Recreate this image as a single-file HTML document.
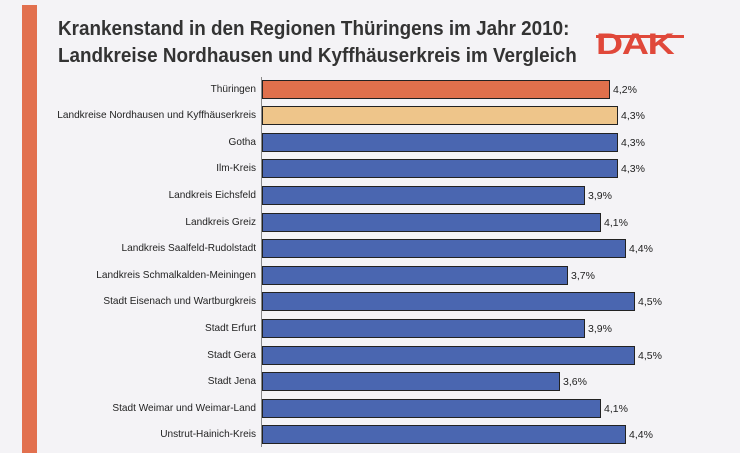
<!DOCTYPE html>
<html><head><meta charset="utf-8"><style>
body{margin:0;width:740px;height:453px;background:#f4f3f6;position:relative;overflow:hidden;font-family:"Liberation Sans",sans-serif}
.stripe{position:absolute;left:22px;top:5px;width:15px;height:448px;background:#e2704e}
.t{position:absolute;left:58px;font-size:20.5px;font-weight:bold;color:#333;transform:scaleX(0.92);transform-origin:left;white-space:nowrap}
.dak{position:absolute;left:596px;top:28px;font-size:30px;font-weight:bold;color:#e0483a;letter-spacing:-1px;transform:scaleX(1.25);transform-origin:left}
.axis{position:absolute;left:261px;top:77px;width:1px;height:370px;background:#888}
.lab{position:absolute;left:6px;width:250px;text-align:right;font-size:10.5px;color:#222;line-height:19px;white-space:nowrap;transform:scaleX(0.96);transform-origin:right}
.bar{position:absolute;left:262px;height:17px;border:1px solid #222;box-sizing:content-box}
.val{position:absolute;font-size:10.5px;color:#222;line-height:19px}
</style></head><body>
<div class="stripe"></div>
<div class="t" style="top:17px">Krankenstand in den Regionen Thüringens im Jahr 2010:</div>
<div class="t" style="top:44px">Landkreise Nordhausen und Kyffhäuserkreis im Vergleich</div>
<div class="dak">DAK</div>
<div style="position:absolute;left:596px;top:35px;width:88px;height:3px;background:#e0483a"></div>
<div class="axis"></div>
<div id="c"></div>
<script>
var d=[["Thüringen",4.2,"#e0704c"],["Landkreise Nordhausen und Kyffhäuserkreis",4.3,"#eec58a"],["Gotha",4.3],["Ilm-Kreis",4.3],["Landkreis Eichsfeld",3.9],["Landkreis Greiz",4.1],["Landkreis Saalfeld-Rudolstadt",4.4],["Landkreis Schmalkalden-Meiningen",3.7],["Stadt Eisenach und Wartburgkreis",4.5],["Stadt Erfurt",3.9],["Stadt Gera",4.5],["Stadt Jena",3.6],["Stadt Weimar und Weimar-Land",4.1],["Unstrut-Hainich-Kreis",4.4]];
var h="";
d.forEach(function(r,i){var y=Math.round(79.5+i*26.6);var w=Math.round(r[1]*82.8)-2;
h+='<div class="lab" style="top:'+y+'px">'+r[0]+'</div><div class="bar" style="top:'+y+'px;width:'+w+'px;background:'+(r[2]||"#4a66b0")+'"></div><div class="val" style="top:'+(y+1)+'px;left:'+(262+w+5)+'px">'+r[1].toFixed(1).replace(".",",")+'%</div>';});
document.getElementById("c").innerHTML=h;
</script>
</body></html>
